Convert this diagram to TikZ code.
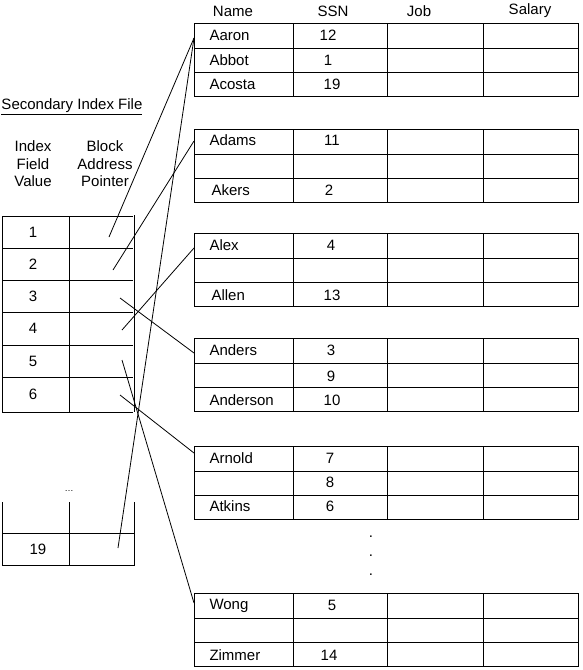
\documentclass[tikz,border=0pt]{standalone}
\usepackage{fontspec}
\setmainfont{Liberation Sans}
\usetikzlibrary{positioning}

\tikzset{
	txt/.style={font=\fontsize{15}{17.5}\selectfont, inner sep=0pt},
	nm/.style={txt, anchor=west},
	ptr/.style={line width=0.8pt},
}

\begin{document}
\begin{tikzpicture}[x=1pt,y=-1pt,line width=1pt]
		\useasboundingbox[fill=white] (0,0) rectangle (582,670);

		% data file blocks
		\foreach \t in {23.5,129,233,338,446,593} {
			\draw (194,\t) rectangle (578,{\t+73});
			\draw (194,{\t+25}) -- (578,{\t+25});
			\draw (194,{\t+49}) -- (578,{\t+49});
			\foreach \x in {293,387,483}
				\draw (\x,\t) -- (\x,{\t+73});
		}

		\node[txt] (hname) at (233,11) {Name};
		\node[txt] (hssn) at (333,11) {SSN};
		\node[txt] (hjob) at (419,11) {Job};
		\node[txt] (hsal) at (530,11) {Salary};

		\node[nm] (aaron) at (209,35) {Aaron};
		\node[txt] at (328,35) {12};
		\node[nm] (abbot) at (209,60) {Abbot};
		\node[txt] at (328,60) {1};
		\node[nm] (acosta) at (209,84.5) {Acosta};
		\node[txt] at (332,84.5) {19};

		\node[nm] (adams) at (209,140.5) {Adams};
		\node[txt] at (332,140.5) {11};
		\node[nm] (akers) at (211,190) {Akers};
		\node[txt] at (329,190) {2};

		\node[nm] (alex) at (209,245.5) {Alex};
		\node[txt] at (331,245.5) {4};
		\node[nm] (allen) at (211,295) {Allen};
		\node[txt] at (332,295) {13};

		\node[nm] (anders) at (209,350.5) {Anders};
		\node[txt] at (331,350.5) {3};
		\node[txt] at (331,376) {9};
		\node[nm] (anderson) at (209,400) {Anderson};
		\node[txt] at (332,400) {10};

		\node[nm] (arnold) at (209,458.5) {Arnold};
		\node[txt] at (330,458.5) {7};
		\node[txt] at (330,482.5) {8};
		\node[nm] (atkins) at (209,506.5) {Atkins};
		\node[txt] at (330,506.5) {6};

		\node[nm] (wong) at (209,605.5) {Wong};
		\node[txt] at (332,605.5) {5};
		\node[nm] (zimmer) at (209,655) {Zimmer};
		\node[txt] at (329,655) {14};

		\node[txt] (d1) at (371,537) {.};
		\node[txt] (d2) at (371,556) {.};
		\node[txt] (d3) at (371,575) {.};

		% secondary index
		\node[nm] (title) at (1,107) {\underline{Secondary Index File}};
		\node[txt,align=center] (ifv) at (33,164) {Index\\Field\\Value};
		\node[txt,align=center] (bap) at (105,164) {Block\\Address\\Pointer};

		\draw (2,216) -- (2,412);
		\draw (69,216) -- (69,412);
		\draw (134,215) -- (134,412);
		\foreach \y in {216,248.5,280.5,312.5,345,377,412}
			\draw (2,\y) -- (133,\y);
		\foreach \v/\y in {1/232,2/264,3/296,4/328.5,5/361,6/394}
			\node[txt] (i\v) at (33,\y) {\v};

		\draw (2,502) -- (2,566) (69,502) -- (69,566) (134,502) -- (134,566);
		\draw (2,533) -- (134,533) (2,565) -- (134,565);
		\node[font=\fontsize{9}{10}\selectfont, inner sep=0pt] (gap) at (69,491) {\dots};
		\node[txt] (i19) at (38,549) {19};

		% pointer ends
		\coordinate (p1) at (109,237);
		\coordinate (p2) at (113,270);
		\coordinate (p3) at (120,298);
		\coordinate (p4) at (122,330);
		\coordinate (p5) at (122,360);
		\coordinate (p6) at (120,395);
		\coordinate (p19) at (118,548);
		\coordinate (b1) at (194,38);
		\coordinate (b2) at (194,141);
		\coordinate (b3) at (194,248);
		\coordinate (b4) at (194,353);
		\coordinate (b5) at (194,453);
		\coordinate (b6) at (194,603);

		\path[ptr] (p1) edge (b1) (p19) edge (b1);
		\path[ptr] (p2) edge (b2) (p4) edge (b3);
		\path[ptr] (p3) edge (b4) (p6) edge (b5) (p5) edge (b6);
	\end{tikzpicture}
\end{document}
